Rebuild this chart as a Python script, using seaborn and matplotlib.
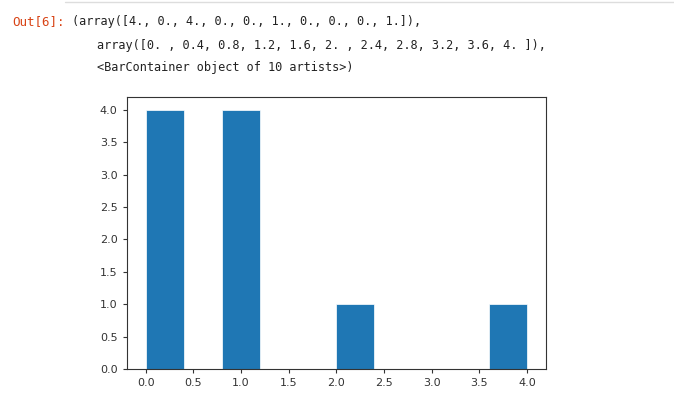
import numpy as np
import matplotlib
matplotlib.use("Agg")
import matplotlib.pyplot as plt
import seaborn as sns
from matplotlib.lines import Line2D

# raw values behind the histogram
values = [0, 0, 0, 0, 1, 1, 1, 1, 2, 4]
n_bins = 10
bin_range = (0, 4)
x_ticks = [0.0, 0.5, 1.0, 1.5, 2.0, 2.5, 3.0, 3.5, 4.0]
y_ticks = [0.0, 0.5, 1.0, 1.5, 2.0, 2.5, 3.0, 3.5, 4.0]

out_lines = [
    "(array([4., 0., 4., 0., 0., 1., 0., 0., 0., 1.]),",
    "array([0. , 0.4, 0.8, 1.2, 1.6, 2. , 2.4, 2.8, 3.2, 3.6, 4. ]),",
    "<BarContainer object of 10 artists>)",
]
line_x = [72, 97, 97]

sns.set_style("ticks")
plt.rcParams['font.family'] = ['DejaVu Sans']

fig = plt.figure(figsize=(6.74, 4.05), dpi=100)
ax = fig.add_axes([0.188, 0.089, 0.622, 0.672])

sns.histplot(x=values, bins=n_bins, binrange=bin_range, color='#1f77b4',
             alpha=1, edgecolor='white', linewidth=0.5, ax=ax)
ax.set_xlim(-0.2, 4.2)
ax.set_ylim(0, 4.2)
ax.set_xticks(x_ticks)
ax.set_yticks(y_ticks)
ax.set_xticklabels([f"{t:.1f}" for t in x_ticks])
ax.set_yticklabels([f"{t:.1f}" for t in y_ticks])
ax.tick_params(labelsize=8, colors='#333333', length=3)
ax.set_xlabel('')
ax.set_ylabel('')
for s in ax.spines.values():
    s.set_visible(True)
    s.set_color('#333333')
    s.set_linewidth(0.8)

# notebook output text
fig.text(12 / 674, 1 - 22 / 405, "Out[6]:", color='#d84315', family='DejaVu Sans Mono',
         fontsize=9, va='center')
for i, line in enumerate(out_lines):
    fig.text(line_x[i] / 674, 1 - (22 + 23 * i) / 405, line, color='#222222',
             family='DejaVu Sans Mono', fontsize=8.6, va='center')

# cell border line at top
fig.add_artist(Line2D([65 / 674, 1], [1 - 2 / 405, 1 - 2 / 405], color='#dddddd', lw=1))

fig.savefig('out.png', dpi=100)
